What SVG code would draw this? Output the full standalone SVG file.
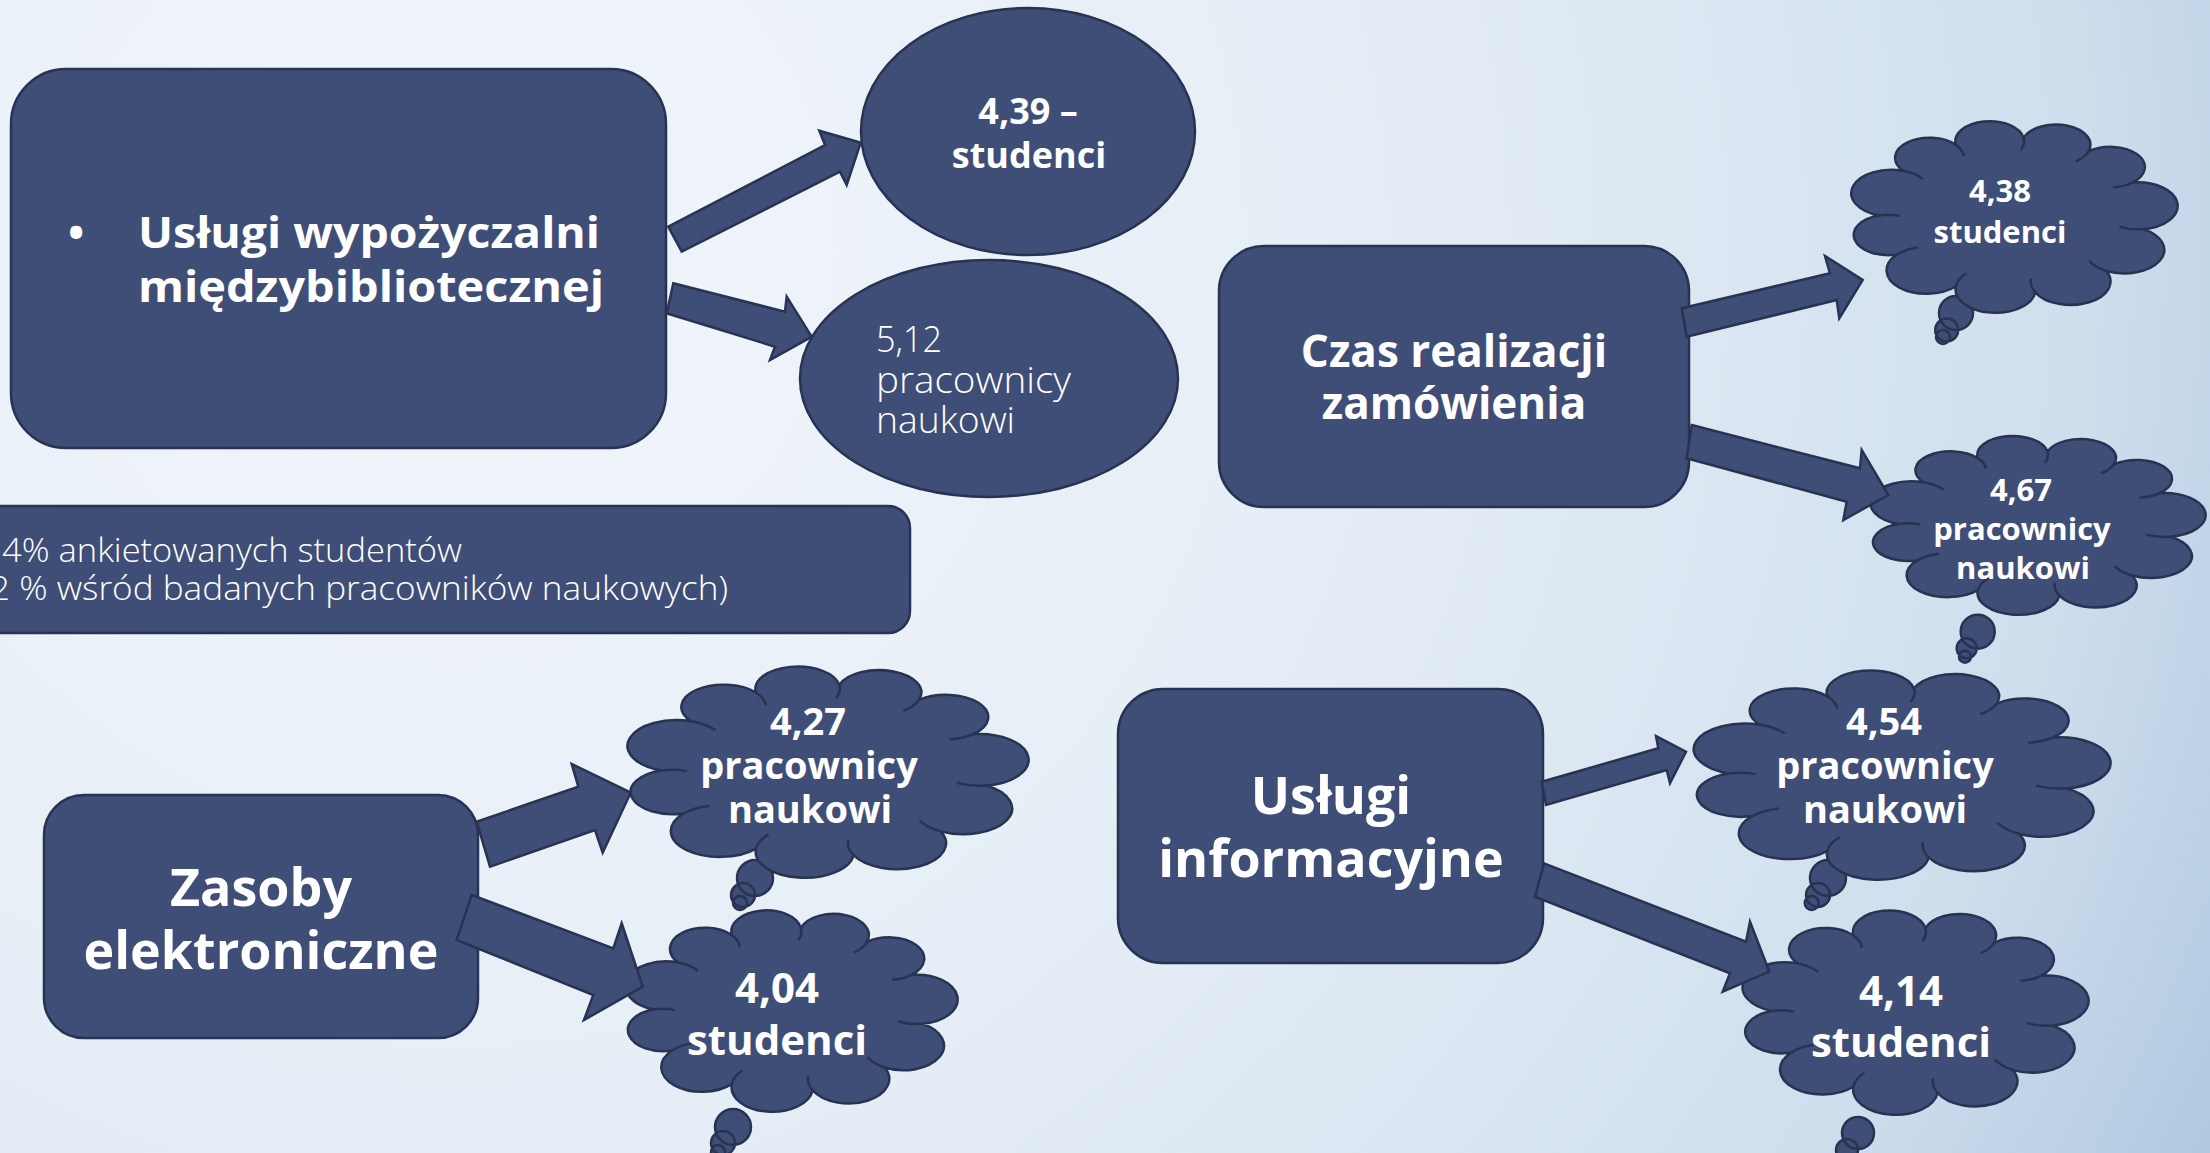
<svg xmlns="http://www.w3.org/2000/svg" xmlns:xlink="http://www.w3.org/1999/xlink" width="2210" height="1153" viewBox="0 0 2210 1153">
<style>
.node{fill:#3f4e77;stroke:#283352;stroke-width:2.5}
.arr{fill:#3f4e77;stroke:#283352;stroke-width:2.5;stroke-linejoin:miter}
.cl{fill:#3f4e77;stroke:#283352;stroke-width:2.5;vector-effect:non-scaling-stroke}
.cr{fill:none;stroke:#283352;stroke-width:2.5;vector-effect:non-scaling-stroke}
.t{font-family:"Open Sans","DejaVu Sans",sans-serif;font-weight:700;fill:#ffffff;text-anchor:middle}
.tl{font-family:"Open Sans","DejaVu Sans",sans-serif;font-weight:300;fill:#ffffff}
</style>
<defs>
<radialGradient id="bg" gradientUnits="userSpaceOnUse" cx="450" cy="250" r="2050">
<stop offset="0" stop-color="#f2f6fb"/>
<stop offset="0.5" stop-color="#e3ecf5"/>
<stop offset="0.8" stop-color="#cfdeed"/>
<stop offset="1" stop-color="#a9c4de"/>
</radialGradient>
<g id="cloudShape">
<path class="cl" d="M10 50A1 1 0 0 1 17.2 27.1A1 1 0 0 1 33.1 13.8A1 1 0 0 1 53.5 10.2A1 1 0 0 1 73 17.2A1 1 0 0 1 86.3 33.1A1 1 0 0 1 89.4 57A1 1 0 0 1 78.3 78.3A1 1 0 0 1 57 89.4A1 1 0 0 1 33.1 86.3A1 1 0 0 1 15.4 70A1 1 0 0 1 10 50Z"/>
<path class="cr" d="M17.2 27.1A12 12 0 0 1 23.1 31.2M33.1 13.8A10.36 10.36 0 0 1 35.5 19.6M53.5 10.2A10.36 10.36 0 0 1 52.7 16.4M73 17.2A10.36 10.36 0 0 1 69.2 22.2M86.3 33.1A10.36 10.36 0 0 1 80.5 35.5M89.4 57A12.05 12.05 0 0 1 82.3 55.7M78.3 78.3A12.01 12.01 0 0 1 73.2 73.2M57 89.4A12.01 12.01 0 0 1 55.7 82.3M33.1 86.3A12.05 12.05 0 0 1 36.2 79.7M15.4 70A12.03 12.03 0 0 1 21.7 66.4M10 50A10.36 10.36 0 0 1 16.2 50.3"/>
</g>
</defs>
<rect width="2210" height="1153" fill="url(#bg)"/>

<g id="node-wypozyczalnia">
<rect class="node" x="11" y="69" width="655" height="379" rx="55"/>
<text class="t" x="76" y="248" font-size="43">•</text>
<text class="t" x="138" y="248" style="text-anchor:start" font-size="43" textLength="462" lengthAdjust="spacingAndGlyphs">Usługi wypożyczalni</text>
<text class="t" x="138" y="302" style="text-anchor:start" font-size="43" textLength="466" lengthAdjust="spacingAndGlyphs">międzybibliotecznej</text>
</g>

<g id="node-439">
<ellipse class="node" cx="1028" cy="131.5" rx="167" ry="123.5"/>
<text class="t" x="1028" y="124" font-size="36">4,39 –</text>
<text class="t" x="1029" y="168" font-size="36">studenci</text>
</g>

<g id="node-512">
<ellipse class="node" cx="989" cy="378.5" rx="189" ry="118.5"/>
<text class="tl" x="876" y="352" font-size="36" textLength="66" lengthAdjust="spacingAndGlyphs">5,12</text>
<text class="tl" x="876" y="392.5" font-size="36" textLength="195" lengthAdjust="spacingAndGlyphs">pracownicy</text>
<text class="tl" x="876" y="433" font-size="36" textLength="139" lengthAdjust="spacingAndGlyphs">naukowi</text>
</g>

<g id="node-info-box">
<rect class="node" x="-30" y="506" width="940" height="127" rx="22"/>
<text class="tl" x="2" y="562" font-size="33" textLength="460" lengthAdjust="spacingAndGlyphs">4% ankietowanych studentów</text>
<text class="tl" x="-10" y="600" font-size="33" textLength="738" lengthAdjust="spacingAndGlyphs">2 % wśród badanych pracowników naukowych)</text>
</g>

<g id="node-czas">
<rect class="node" x="1219" y="246" width="470" height="261" rx="45"/>
<text class="t" x="1454" y="367" font-size="44">Czas realizacji</text>
<text class="t" x="1454" y="419" font-size="44">zamówienia</text>
</g>

<g id="node-438">
<path class="node" d="M1956 313m-17 0a17 17 0 1 0 34 0a17 17 0 1 0-34 0M1946.7 330m-11.5 0a11.5 11.5 0 1 0 23 0a11.5 11.5 0 1 0-23 0M1943 337m-7 0a7 7 0 1 0 14 0a7 7 0 1 0-14 0"/>
<use xlink:href="#cloudShape" transform="translate(1846 118) scale(3.32 1.95)"/>
<text class="t" x="2000" y="202" font-size="31">4,38</text>
<text class="t" x="2000" y="243" font-size="31">studenci</text>
</g>

<g id="node-467">
<path class="node" d="M1977.7 631.7m-17 0a17 17 0 1 0 34 0a17 17 0 1 0-34 0M1966.7 648.3m-10 0a10 10 0 1 0 20 0a10 10 0 1 0-20 0M1965 656.7m-6 0a6 6 0 1 0 12 0a6 6 0 1 0-12 0"/>
<use xlink:href="#cloudShape" transform="translate(1865 433) scale(3.41 1.82)"/>
<text class="t" x="2021" y="501" font-size="31">4,67</text>
<text class="t" x="2022" y="540" font-size="31">pracownicy</text>
<text class="t" x="2023" y="579" font-size="31">naukowi</text>
</g>

<g id="node-zasoby">
<rect class="node" x="44" y="795" width="434" height="243" rx="40"/>
<text class="t" x="261" y="906" font-size="52">Zasoby</text>
<text class="t" x="261" y="969" font-size="52">elektroniczne</text>
</g>

<g id="node-427">
<path class="node" d="M755 878m-18 0a18 18 0 1 0 36 0a18 18 0 1 0-36 0M743 895m-12 0a12 12 0 1 0 24 0a12 12 0 1 0-24 0M740 903m-7 0a7 7 0 1 0 14 0a7 7 0 1 0-14 0"/>
<use xlink:href="#cloudShape" transform="translate(621 663) scale(4.08 2.15)"/>
<text class="t" x="808" y="735" font-size="38">4,27</text>
<text class="t" x="809" y="779" font-size="38">pracownicy</text>
<text class="t" x="810" y="823" font-size="38">naukowi</text>
</g>

<g id="node-404">
<path class="node" d="M733 1127m-18 0a18 18 0 1 0 36 0a18 18 0 1 0-36 0M723 1143m-12 0a12 12 0 1 0 24 0a12 12 0 1 0-24 0M718 1152m-7 0a7 7 0 1 0 14 0a7 7 0 1 0-14 0"/>
<use xlink:href="#cloudShape" transform="translate(620 907) scale(3.38 2.05)"/>
<text class="t" x="777" y="1003" font-size="42">4,04</text>
<text class="t" x="777" y="1055" font-size="42">studenci</text>
</g>

<g id="node-uslugi-inf">
<rect class="node" x="1118" y="689" width="425" height="274" rx="45"/>
<text class="t" x="1331" y="814" font-size="52">Usługi</text>
<text class="t" x="1331" y="877" font-size="52">informacyjne</text>
</g>

<g id="node-454">
<path class="node" d="M1828 878m-18 0a18 18 0 1 0 36 0a18 18 0 1 0-36 0M1818 895m-12 0a12 12 0 1 0 24 0a12 12 0 1 0-24 0M1811.7 903m-7 0a7 7 0 1 0 14 0a7 7 0 1 0-14 0"/>
<use xlink:href="#cloudShape" transform="translate(1687 667) scale(4.24 2.13)"/>
<text class="t" x="1884" y="735" font-size="38">4,54</text>
<text class="t" x="1885" y="779" font-size="38">pracownicy</text>
<text class="t" x="1885" y="823" font-size="38">naukowi</text>
</g>

<g id="node-414">
<path class="node" d="M1858 1133m-16 0a16 16 0 1 0 32 0a16 16 0 1 0-32 0M1847 1150m-11 0a11 11 0 1 0 22 0a11 11 0 1 0-22 0"/>
<use xlink:href="#cloudShape" transform="translate(1737 907) scale(3.52 2.08)"/>
<text class="t" x="1901" y="1006" font-size="42">4,14</text>
<text class="t" x="1901" y="1057" font-size="42">studenci</text>
</g>

<g id="connectors">
<polygon class="arr" points="668.3,226.7 825,145 819.3,130.7 860.7,142.7 846.7,185 840,171.7 681.7,251.7"/>
<polygon class="arr" points="673.3,283.3 785,311.7 786.7,296.7 811.7,336.7 770,360 775,346.7 666.7,313.3"/>
<polygon class="arr" points="1681.7,308.3 1830,273.3 1825,256 1862.7,280 1839.3,318.3 1836.7,300 1686.7,336.7"/>
<polygon class="arr" points="1691.7,425 1860,468.3 1861.7,450 1888.3,495 1843.3,520 1846.7,501.7 1686.7,458.3"/>
<polygon class="arr" points="476.7,821.7 578.3,786.7 571.7,764 630.7,792.7 602.7,852.7 595,830 490,866.7"/>
<polygon class="arr" points="471.7,895 613.3,948.3 621.7,923.3 642.7,986.7 584,1020 593.3,995 456.7,940"/>
<polygon class="arr" points="1541.7,781.7 1658.3,748.3 1656,736 1686,751.7 1670,783.3 1666.7,770 1546,805"/>
<polygon class="arr" points="1544,863.3 1746,941.7 1750,921.7 1769.3,971.7 1722.7,991.7 1730,973.3 1535,896.7"/>
</g>
</svg>
